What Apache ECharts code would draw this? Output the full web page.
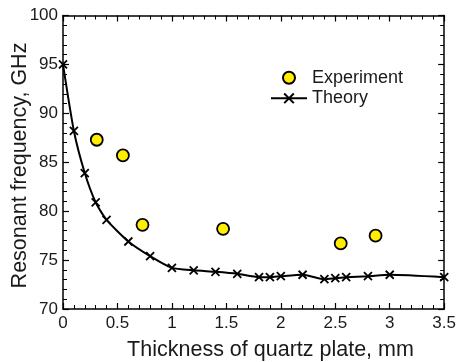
<!DOCTYPE html>
<html>
<head>
<meta charset="utf-8">
<script src="https://cdn.jsdelivr.net/npm/echarts@6/dist/echarts.min.js"></script>
<style>
html,body{margin:0;padding:0;background:#fff;}
#c{width:459px;height:362px;}
</style>
</head>
<body>
<div id="c"></div>
<script>
// Data
var theoryX = [0, 0.1, 0.2, 0.3, 0.4, 0.6, 0.8, 1.0, 1.2, 1.4, 1.6, 1.8, 1.9, 2.0, 2.2, 2.4, 2.5, 2.6, 2.8, 3.0, 3.5];
var theoryY = [95.0, 88.2, 83.9, 80.9, 79.1, 76.9, 75.4, 74.2, 73.95, 73.8, 73.6, 73.25, 73.25, 73.35, 73.5, 73.05, 73.15, 73.25, 73.35, 73.5, 73.25];
var expX = [0.31, 0.55, 0.73, 1.47, 2.55, 2.87];
var expY = [87.3, 85.7, 78.6, 78.2, 76.7, 77.5];
var xTitle = 'Thickness of quartz plate, mm';
var yTitle = 'Resonant frequency, GHz';
var seriesNames = ['Experiment', 'Theory'];

var FONT = "'Liberation Sans', Arial, Helvetica, sans-serif";
var TXT = '#1a1a1a';

function pairs(xs, ys) { return xs.map(function (x, i) { return [x, ys[i]]; }); }

var chart = echarts.init(document.getElementById('c'), null, { renderer: 'canvas' });

function baseAxis(extra) {
  var a = {
    type: 'value',
    axisLine: { show: true, onZero: false, lineStyle: { color: '#000', width: 1.5 } },
    axisTick: { show: true, inside: true, length: 6, lineStyle: { color: '#000', width: 1.2 } },
    minorTick: { show: true, splitNumber: 5, length: 4, lineStyle: { color: '#000', width: 1 } },
    splitLine: { show: false },
    minorSplitLine: { show: false },
    axisLabel: { show: false }
  };
  for (var k in extra) a[k] = extra[k];
  return a;
}

var option = {
  animation: false,
  backgroundColor: '#fff',
  grid: { left: 63, right: 7, top: 15.5, bottom: 53, containLabel: false },
  xAxis: [
    baseAxis({ position: 'bottom', min: 0, max: 3.5, interval: 0.5,
      axisLabel: { show: true, margin: 6, fontSize: 17, color: TXT, fontFamily: FONT } }),
    baseAxis({ position: 'top', min: 0, max: 3.5, interval: 0.5 })
  ],
  yAxis: [
    baseAxis({ position: 'left', min: 70, max: 100, interval: 5,
      axisLabel: { show: true, margin: 5, fontSize: 17, color: TXT, fontFamily: FONT } }),
    baseAxis({ position: 'right', min: 70, max: 100, interval: 5 })
  ],
  legend: {
    left: 265, top: 62.7, orient: 'vertical', padding: 5,
    itemWidth: 36, itemHeight: 12, itemGap: 0.6,
    textStyle: { fontSize: 18, color: TXT, fontFamily: FONT, lineHeight: 20 },
    data: [
      { name: seriesNames[0], icon: 'circle' },
      { name: seriesNames[1] }
    ]
  },
  graphic: [
    { type: 'text', x: 270.5, y: 350.5, style: { text: xTitle, font: '21.5px ' + FONT, fill: TXT, align: 'center', verticalAlign: 'middle' } },
    { type: 'text', x: 20, y: 165.5, rotation: Math.PI / 2, style: { text: yTitle, font: '21.5px ' + FONT, fill: TXT, align: 'center', verticalAlign: 'middle' } }
  ],
  series: [
    {
      name: seriesNames[1],
      type: 'line',
      data: pairs(theoryX, theoryY),
      smooth: 0.2,
      symbol: 'path://M0,0L10,10M10,0L0,10',
      symbolSize: 8,
      showSymbol: true,
      lineStyle: { color: '#000', width: 2 },
      itemStyle: { color: '#000', borderColor: '#000', borderWidth: 1.8 },
      z: 2
    },
    {
      name: seriesNames[0],
      type: 'scatter',
      data: pairs(expX, expY),
      symbol: 'circle',
      symbolSize: 12,
      itemStyle: { color: '#ffee00', borderColor: '#000', borderWidth: 1.8, opacity: 1 },
      z: 3
    }
  ]
};
chart.setOption(option);
</script>
</body>
</html>
